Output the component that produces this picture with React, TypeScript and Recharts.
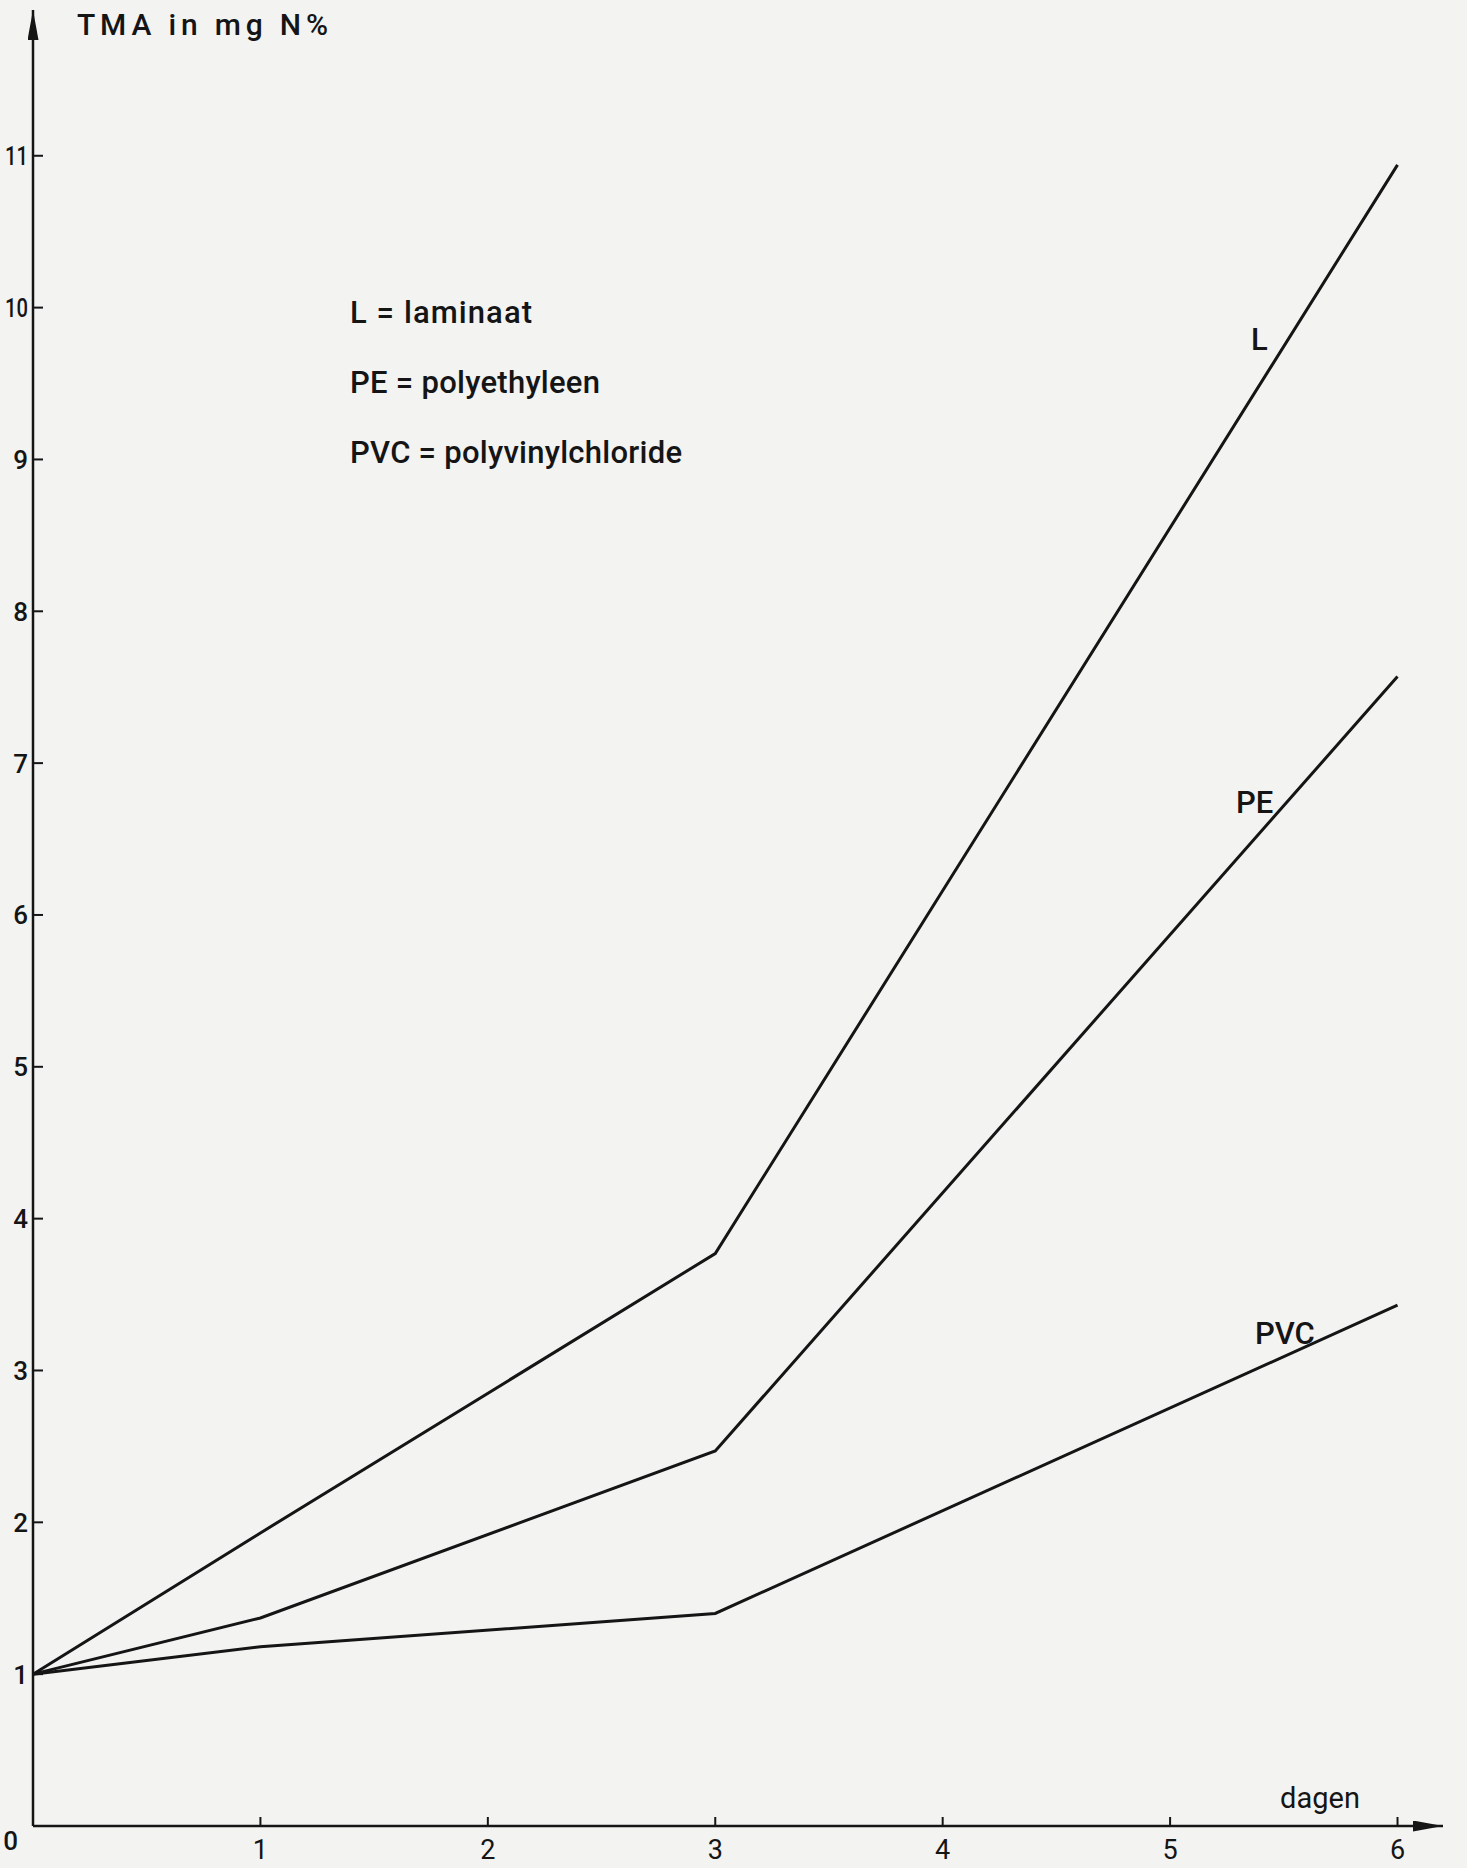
import React from 'react';
import { LineChart, Line, XAxis, YAxis } from 'recharts';

// ---- data ----
const days = [0, 1, 3, 6];
const laminaat = [1.0, 1.93, 3.77, 10.94];
const polyethyleen = [1.0, 1.37, 2.47, 7.57];
const polyvinylchloride = [1.0, 1.18, 1.4, 3.43];
const xTicks = [1, 2, 3, 4, 5, 6];
const yTicks = [0, 1, 2, 3, 4, 5, 6, 7, 8, 9, 10, 11];
const legendLines = ['L = laminaat', 'PE = polyethyleen', 'PVC = polyvinylchloride'];
const yTitle = 'TMA in mg N%';
const xTitle = 'dagen';

const data = days.map((d, i) => ({
  day: d,
  L: laminaat[i],
  PE: polyethyleen[i],
  PVC: polyvinylchloride[i],
}));

const W = 1467;
const H = 1868;
const INK = '#151515';
const BG = '#f3f3f2';
const FONT = 'Roboto, "Liberation Sans", sans-serif';

const YTick = (props: any) => {
  const { x, y, payload } = props;
  const v = payload.value;
  const zero = v === 0;
  const twoDigit = String(v).length > 1;
  const extra: any = twoDigit ? { textLength: 23, lengthAdjust: 'spacingAndGlyphs' } : {};
  return (
    <g>
      {!zero && <line x1={x} y1={y} x2={x + 10} y2={y} stroke={INK} strokeWidth={2} />}
      <text
        x={zero ? x - 15 : x - 5}
        y={zero ? y + 24 : y + 9.5}
        textAnchor="end"
        fontFamily={FONT}
        fontSize={26}
        fontWeight={500}
        fill={INK}
        {...extra}
      >
        {v}
      </text>
    </g>
  );
};

const XTick = (props: any) => {
  const { x, y, payload } = props;
  return (
    <g>
      <line x1={x} y1={y} x2={x} y2={y - 9} stroke={INK} strokeWidth={2} />
      <text x={x} y={y + 33} textAnchor="middle" fontFamily={FONT} fontSize={27} fill={INK}>
        {payload.value}
      </text>
    </g>
  );
};

export default function App() {
  return (
    <div style={{ position: 'absolute', left: 0, top: 0, width: W, height: H, background: BG }}>
      <svg width={0} height={0} style={{ position: 'absolute' }}>
        <defs>
          <marker
            id="arrowHead"
            viewBox="0 0 30 11"
            refX={30}
            refY={5.5}
            markerWidth={30}
            markerHeight={11}
            markerUnits="userSpaceOnUse"
            orient="auto-start-reverse"
          >
            <path d="M0,0 L30,5.5 L0,11 Z" fill={INK} />
          </marker>
        </defs>
      </svg>
      <LineChart width={W} height={H} data={data} margin={{ top: 10, right: 24, bottom: 41, left: 32 }}>
        <XAxis
          type="number"
          dataKey="day"
          domain={[0, 6.2]}
          ticks={xTicks}
          interval={0}
          height={1}
          tickSize={0}
          tickMargin={0}
          tickLine={false}
          tick={<XTick />}
          axisLine={{ stroke: INK, strokeWidth: 2.5, markerEnd: 'url(#arrowHead)' }}
        />
        <YAxis
          type="number"
          domain={[0, 11.96]}
          ticks={yTicks}
          interval={0}
          width={1}
          tickSize={0}
          tickMargin={0}
          tickLine={false}
          tick={<YTick />}
          axisLine={{ stroke: INK, strokeWidth: 2.5, markerStart: 'url(#arrowHead)' }}
        />
        <Line type="linear" dataKey="L" stroke={INK} strokeWidth={3} dot={false} isAnimationActive={false} />
        <Line type="linear" dataKey="PE" stroke={INK} strokeWidth={3} dot={false} isAnimationActive={false} />
        <Line type="linear" dataKey="PVC" stroke={INK} strokeWidth={3} dot={false} isAnimationActive={false} />
      </LineChart>
      <svg
        width={W}
        height={H}
        style={{ position: 'absolute', left: 0, top: 0, pointerEvents: 'none' }}
      >
        <text x={77} y={35} fontFamily={FONT} fontSize={30} fontWeight={500} fill={INK} textLength={251} lengthAdjust="spacing">
          {yTitle}
        </text>
        <text x={350} y={323} fontFamily={FONT} fontSize={31} fontWeight={500} fill={INK} textLength={182} lengthAdjust="spacing">
          {legendLines[0]}
        </text>
        <text x={350} y={393} fontFamily={FONT} fontSize={31} fontWeight={500} fill={INK} textLength={250} lengthAdjust="spacing">
          {legendLines[1]}
        </text>
        <text x={350} y={463} fontFamily={FONT} fontSize={31} fontWeight={500} fill={INK} textLength={332} lengthAdjust="spacing">
          {legendLines[2]}
        </text>
        <text x={1251} y={350} fontFamily={FONT} fontSize={31} fontWeight={500} fill={INK}>L</text>
        <text x={1236} y={813} fontFamily={FONT} fontSize={31} fontWeight={500} fill={INK}>PE</text>
        <text x={1255} y={1344} fontFamily={FONT} fontSize={31} fontWeight={500} fill={INK}>PVC</text>
        <text x={1280} y={1808} fontFamily={FONT} fontSize={29} fill={INK} textLength={80} lengthAdjust="spacing">
          {xTitle}
        </text>
      </svg>
    </div>
  );
}
